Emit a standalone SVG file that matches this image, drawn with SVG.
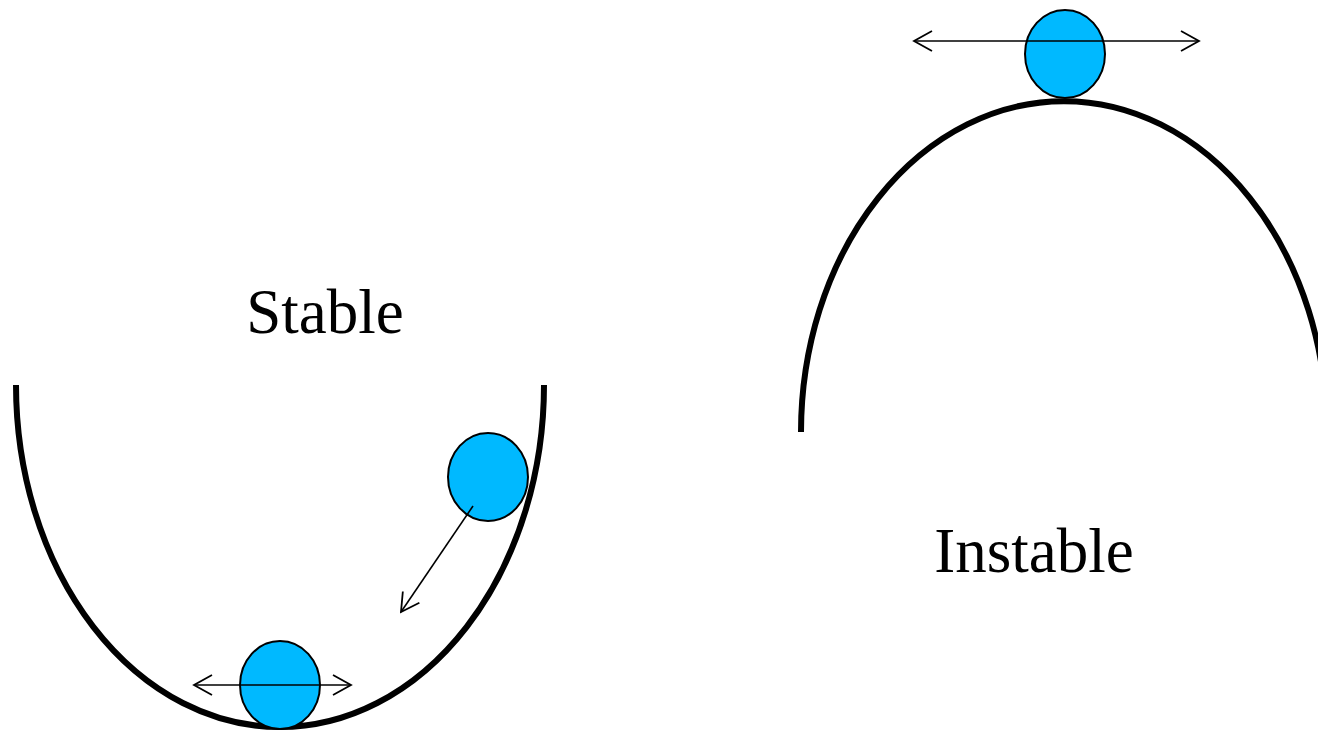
<svg xmlns="http://www.w3.org/2000/svg" width="1318" height="731" viewBox="0 0 1318 731">
<style>
.curve{fill:none;stroke:#000;stroke-width:6}
.ball{fill:#00B9FF;stroke:#000;stroke-width:2}
.arr{fill:none;stroke:#000;stroke-width:1.6;marker-end:url(#ah)}
.arr2{fill:none;stroke:#000;stroke-width:1.6;marker-end:url(#ah);marker-start:url(#ah)}
.lbl{font-family:"Liberation Serif","Times New Roman",serif;font-size:63px;fill:#000;text-anchor:middle}
</style>
<defs>
<marker id="ah" viewBox="-20 -12 22 24" refX="0" refY="0" markerWidth="22" markerHeight="24" markerUnits="userSpaceOnUse" orient="auto-start-reverse">
<polyline points="-18,-10 0,0 -18,10" fill="none" stroke="#000" stroke-width="1.8"/>
</marker>
</defs>
<g id="stable-well">
<path class="curve" d="M16,385 A264,342 0 0 0 544,385"/>
</g>
<g id="unstable-hill">
<path class="curve" d="M801,432 A263,331 0 0 1 1327,432"/>
</g>
<g id="ball-bottom"><ellipse class="ball" cx="280" cy="685" rx="40" ry="44"/></g>
<g id="ball-side"><ellipse class="ball" cx="488" cy="477" rx="40" ry="44"/></g>
<g id="ball-top"><ellipse class="ball" cx="1065" cy="54" rx="40" ry="44"/></g>
<g id="connectors">
<line class="arr2" x1="194" y1="685" x2="351" y2="685"/>
<line class="arr" x1="473" y1="506" x2="401" y2="612"/>
<line class="arr2" x1="914" y1="41" x2="1199" y2="41"/>
</g>
<g id="label-stable"><text class="lbl" x="325" y="333">Stable</text></g>
<g id="label-instable"><text class="lbl" x="1034" y="572">Instable</text></g>
</svg>
